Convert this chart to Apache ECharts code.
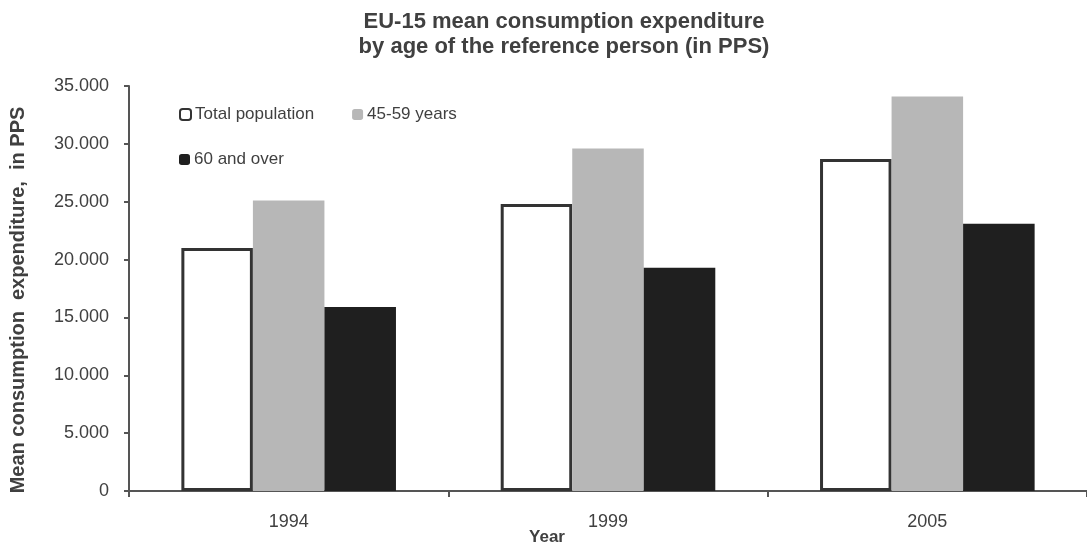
<!DOCTYPE html>
<html>
<head>
<meta charset="utf-8">
<title>EU-15 mean consumption expenditure</title>
<script src="https://cdn.jsdelivr.net/npm/echarts@6/dist/echarts.min.js"></script>
<style>
  html, body { margin: 0; padding: 0; background: #ffffff; }
  #chart { width: 1087px; height: 547px; }
</style>
</head>
<body>
<div id="chart"></div>
<script>
// Survey years on the category axis
const years = ['1994', '1999', '2005'];

// Mean consumption expenditure per household (PPS)
const totalPopulation = [21000, 24800, 28700];
const age45to59 = [25100, 29600, 34100];
const age60andOver = [15900, 19300, 23100];

// Value axis range
const yMin = 0;
const yMax = 35000;
const yStep = 5000;

const textColor = '#404040';
const fontFamily = '"Liberation Sans", Arial, sans-serif';

// 35000 -> "35.000"
function thousands(v) {
  return String(v).replace(/\B(?=(\d{3})+(?!\d))/g, '.');
}

const chart = echarts.init(document.getElementById('chart'), null, { renderer: 'canvas' });

chart.setOption({
  animation: false,
  backgroundColor: '#ffffff',
  textStyle: { fontFamily: fontFamily, color: textColor },
  title: {
    text: 'EU-15 mean consumption expenditure\nby age of the reference person (in PPS)',
    left: 559,
    top: 4,
    textAlign: 'center',
    textStyle: {
      fontFamily: fontFamily,
      fontSize: 22,
      fontWeight: 'bold',
      color: textColor,
      lineHeight: 25
    }
  },
  legend: [
    {
      data: ['Total population', '45-59 years'],
      left: 174,
      top: 101,
      orient: 'horizontal',
      itemWidth: 11,
      itemHeight: 11,
      itemGap: 38,
      textStyle: { fontFamily: fontFamily, fontSize: 17, color: textColor, padding: [0, 0, 0, -1] }
    },
    {
      data: ['60 and over'],
      left: 174,
      top: 146,
      orient: 'horizontal',
      itemWidth: 11,
      itemHeight: 11,
      textStyle: { fontFamily: fontFamily, fontSize: 17, color: textColor, padding: [0, 0, 0, -1] }
    }
  ],
  grid: {
    left: 129,
    width: 965,
    top: 86,
    bottom: 56,
    containLabel: false
  },
  xAxis: {
    type: 'category',
    data: years,
    boundaryGap: true,
    axisLine: { show: true, lineStyle: { color: '#555555', width: 2 } },
    axisTick: { show: true, alignWithLabel: false, length: 6, inside: false, lineStyle: { color: '#555555', width: 2 } },
    axisLabel: {
      fontFamily: fontFamily,
      fontSize: 18,
      color: textColor,
      margin: 22
    },
    splitLine: { show: false }
  },
  yAxis: {
    type: 'value',
    min: yMin,
    max: yMax,
    interval: yStep,
    axisLine: { show: true, lineStyle: { color: '#555555', width: 2 } },
    axisTick: { show: true, length: 5, inside: false, lineStyle: { color: '#555555', width: 2 } },
    axisLabel: {
      fontFamily: fontFamily,
      fontSize: 18,
      color: textColor,
      margin: 20,
      formatter: function (v) { return thousands(v); }
    },
    splitLine: { show: false }
  },
  graphic: [
    {
      type: 'text',
      rotation: Math.PI / 2,
      x: 18,
      y: 300,
      style: {
        text: 'Mean consumption  expenditure,  in PPS',
        font: 'bold 20px ' + fontFamily,
        fill: textColor,
        textAlign: 'center',
        textVerticalAlign: 'middle'
      }
    },
    {
      type: 'text',
      x: 547,
      y: 537,
      style: {
        text: 'Year',
        font: 'bold 17px ' + fontFamily,
        fill: textColor,
        textAlign: 'center',
        textVerticalAlign: 'middle'
      }
    }
  ],
  series: [
    {
      name: 'Total population',
      type: 'bar',
      data: totalPopulation,
      barWidth: '22.4%',
      barGap: '0%',
      itemStyle: { color: '#ffffff', borderColor: '#333333', borderWidth: 3 },
      z: 2
    },
    {
      name: '45-59 years',
      type: 'bar',
      data: age45to59,
      barWidth: '22.4%',
      barGap: '0%',
      itemStyle: { color: '#b7b7b7' },
      z: 2
    },
    {
      name: '60 and over',
      type: 'bar',
      data: age60andOver,
      barWidth: '22.4%',
      barGap: '0%',
      itemStyle: { color: '#1f1f1f' },
      z: 2
    }
  ]
});
</script>
</body>
</html>
